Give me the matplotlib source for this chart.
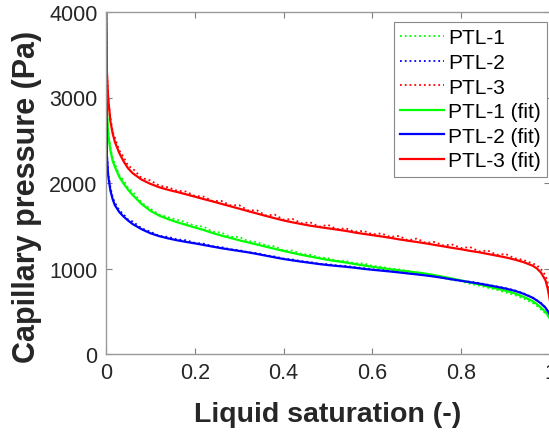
import matplotlib
matplotlib.use("Agg")
import matplotlib.pyplot as plt

plt.rcParams['font.family'] = ['Liberation Sans', 'DejaVu Sans']

# liquid saturation grid (-)
sat = [0, 0.002, 0.005, 0.01, 0.015, 0.02, 0.03, 0.04, 0.05, 0.06, 0.08, 0.10,
       0.12, 0.14, 0.16, 0.18, 0.20, 0.22, 0.24, 0.26, 0.28, 0.30, 0.32, 0.34,
       0.36, 0.38, 0.40, 0.42, 0.44, 0.46, 0.48, 0.50, 0.52, 0.54, 0.56, 0.58,
       0.60, 0.62, 0.64, 0.66, 0.68, 0.70, 0.72, 0.74, 0.76, 0.78, 0.80, 0.82,
       0.84, 0.86, 0.88, 0.90, 0.92, 0.94, 0.96, 0.97, 0.98, 0.99, 0.995, 1.0]

# measured capillary pressure (Pa)
ptl1 = [4200, 2900, 2600, 2420, 2280, 2230, 2090, 2030, 1940, 1900, 1770, 1700,
        1630, 1600, 1570, 1540, 1500, 1490, 1430, 1420, 1370, 1370, 1320, 1310,
        1270, 1260, 1210, 1210, 1170, 1160, 1130, 1120, 1090, 1090, 1060, 1060,
        1030, 1020, 1000, 990, 970, 955, 935, 910, 890, 865, 850, 820,
        800, 775, 750, 720, 690, 650, 600, 565, 520, 475, 445, 400]
ptl2 = [4200, 2360, 2110, 1950, 1830, 1770, 1680, 1630, 1570, 1550, 1470, 1430,
        1380, 1370, 1340, 1330, 1300, 1290, 1260, 1250, 1225, 1215, 1190, 1180,
        1155, 1140, 1115, 1105, 1085, 1075, 1055, 1050, 1035, 1030, 1015, 1005,
        990, 985, 970, 960, 945, 935, 925, 910, 895, 875, 860, 845,
        830, 810, 790, 770, 745, 710, 665, 630, 595, 545, 505, 465]
ptl3 = [4200, 3350, 3000, 2760, 2600, 2530, 2380, 2300, 2200, 2170, 2060, 2030,
        1970, 1950, 1910, 1900, 1850, 1840, 1790, 1790, 1740, 1740, 1680, 1680,
        1620, 1630, 1570, 1580, 1530, 1540, 1490, 1510, 1460, 1470, 1430, 1440,
        1400, 1410, 1370, 1380, 1330, 1350, 1300, 1310, 1270, 1280, 1240, 1250,
        1200, 1210, 1160, 1170, 1120, 1100, 1060, 1040, 990, 920, 830, 700]

# fitted curves (Pa)
fit1 = [4200, 2850, 2560, 2380, 2260, 2190, 2070, 1990, 1920, 1860, 1755, 1675,
        1618, 1577, 1542, 1510, 1480, 1450, 1415, 1385, 1358, 1330, 1305, 1280,
        1255, 1230, 1205, 1182, 1160, 1140, 1120, 1100, 1085, 1070, 1052, 1036,
        1020, 1005, 991, 978, 966, 954, 940, 922, 902, 882, 860, 837,
        815, 790, 765, 740, 710, 670, 620, 585, 540, 490, 460, 410]
fit2 = [4200, 2320, 2080, 1910, 1810, 1740, 1660, 1605, 1560, 1520, 1460, 1412,
        1378, 1352, 1330, 1311, 1294, 1275, 1256, 1237, 1221, 1205, 1189, 1170,
        1150, 1130, 1111, 1095, 1080, 1066, 1052, 1040, 1030, 1020, 1009, 996,
        985, 975, 965, 954, 942, 931, 919, 905, 889, 872, 856, 840,
        824, 805, 786, 765, 740, 705, 660, 628, 590, 540, 500, 460]
fit3 = [4200, 3300, 2980, 2720, 2580, 2480, 2350, 2250, 2170, 2115, 2040, 1990,
        1950, 1920, 1895, 1868, 1840, 1812, 1785, 1756, 1728, 1700, 1671, 1643,
        1615, 1588, 1562, 1540, 1520, 1501, 1485, 1470, 1455, 1440, 1421, 1405,
        1390, 1375, 1359, 1341, 1325, 1310, 1294, 1276, 1259, 1241, 1225, 1206,
        1190, 1170, 1150, 1130, 1105, 1075, 1035, 1003, 950, 860, 760, 620]

green, blue, red = '#00ff00', '#0000ff', '#ff0000'

fig = plt.figure(figsize=(5.49, 4.35), dpi=100)
ax = fig.add_axes([106 / 549, 80 / 435, 444 / 549, 342 / 435])

ax.plot(sat, ptl1, ':', color=green, lw=1.3, label='PTL-1')
ax.plot(sat, ptl2, ':', color=blue, lw=1.3, label='PTL-2')
ax.plot(sat, ptl3, ':', color=red, lw=1.3, label='PTL-3')
ax.plot(sat, fit1, '-', color=green, lw=1.6, label='PTL-1 (fit)')
ax.plot(sat, fit2, '-', color=blue, lw=1.6, label='PTL-2 (fit)')
ax.plot(sat, fit3, '-', color=red, lw=1.6, label='PTL-3 (fit)')

ax.set_xlim(0, 1)
ax.set_ylim(0, 4000)
ax.set_xticks([0, 0.2, 0.4, 0.6, 0.8, 1])
ax.set_xticklabels(['0', '0.2', '0.4', '0.6', '0.8', '1'])
ax.set_yticks([0, 1000, 2000, 3000, 4000])
ax.tick_params(direction='in', length=4, width=0.8, colors='#808080',
               labelcolor='#262626', labelsize=15.5, top=True, right=True, pad=6)
for sp in ax.spines.values():
    sp.set_color('#999999')
    sp.set_linewidth(1.0)

ax.set_xlabel('Liquid saturation (-)', fontsize=20.5, fontweight='bold',
              color='#262626')
ax.set_ylabel('Capillary pressure (Pa)', fontsize=22, fontweight='bold',
              color='#262626')
ax.xaxis.set_label_coords(0.5, -0.137)
ax.yaxis.set_label_coords(-0.144, 0.462)

leg = ax.legend(loc='upper right', bbox_to_anchor=(547 / 549, 1 - 23 / 435),
                bbox_transform=fig.transFigure, borderaxespad=0,
                fontsize=15, fancybox=False, framealpha=1,
                edgecolor='#888888', handlelength=2.1, handletextpad=0.2,
                labelspacing=0.27, borderpad=0.3)
leg.get_frame().set_linewidth(0.8)

fig.savefig('out.png', dpi=100)
